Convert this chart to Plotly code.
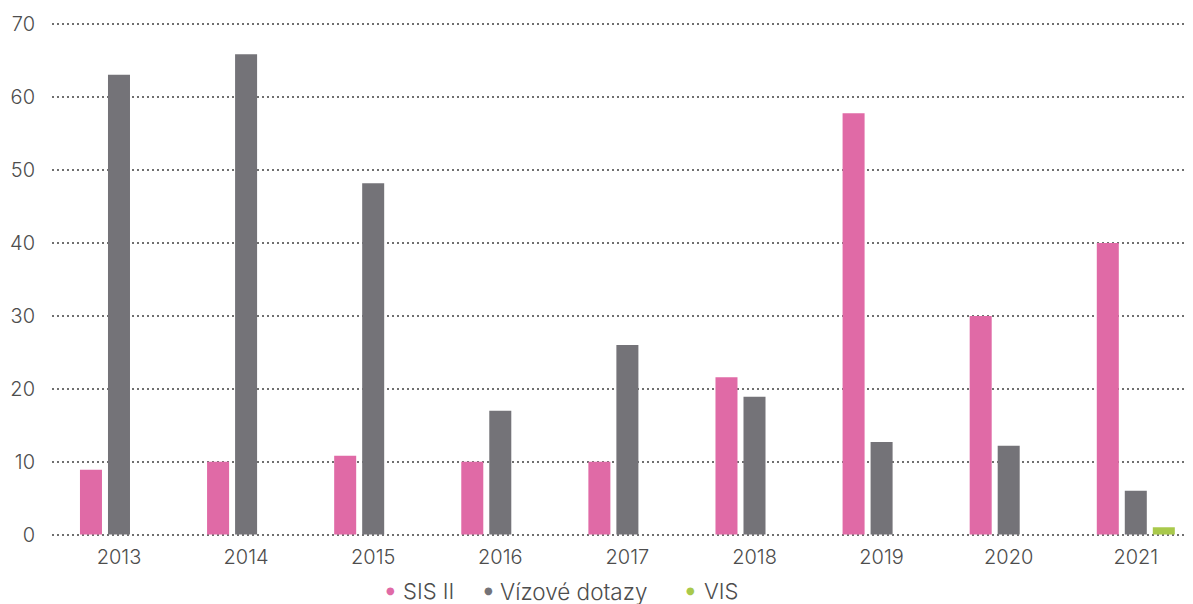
import plotly.graph_objects as go

years = ["2013", "2014", "2015", "2016", "2017", "2018", "2019", "2020", "2021"]
sis_ii = [8.9, 10, 10.8, 10, 10, 21.6, 57.8, 30, 40]
vizove = [63.1, 65.9, 48.2, 17, 26, 18.9, 12.7, 12.2, 6]
vis = [None, None, None, None, None, None, None, None, 1]

series_names = ["SIS II", "Vízové dotazy", "VIS"]
colors = ["#E06AA6", "#747378", "#A9C94B"]
y_ticks = [0, 10, 20, 30, 40, 50, 60, 70]

FONT = "Inter"
TXT = "#4d4d4d"
W, H = 1193, 604
ML, MR, MT, MB = 44, 0, 14.5, 75.5
OFF = 8  # page body margin

fig = go.Figure()
for name, vals, col in zip(series_names, [sis_ii, vizove, vis], colors):
    fig.add_trace(go.Bar(x=years, y=vals, name=name, marker_color=col,
                         marker_line_width=0, showlegend=False))

# custom legend (small dots + labels) below the chart; positions in screen pixels
def px_to_paper_x(px):
    return (px - OFF - ML) / (W - ML - MR)

def px_to_paper_y(py):
    return (H - MB - (py - OFF)) / (H - MT - MB)

legend_dot_px = [390, 488, 690]
legend_txt_px = [401, 498, 702]
legend_sizes = [22, 22.5, 22]
for name, col, dx, tx, fs in zip(series_names, colors, legend_dot_px, legend_txt_px, legend_sizes):
    fig.add_annotation(text="●", x=px_to_paper_x(dx), y=px_to_paper_y(591), xref="paper", yref="paper",
                       xanchor="center", yanchor="middle", showarrow=False,
                       font=dict(family="DejaVu Sans", size=10, color=col))
    fig.add_annotation(text=name, x=px_to_paper_x(tx), y=px_to_paper_y(592), xref="paper", yref="paper",
                       xanchor="left", yanchor="middle", showarrow=False,
                       font=dict(family=FONT, size=fs, color=TXT, weight=300))

fig.update_layout(
    width=W, height=H,
    margin=dict(l=ML, r=MR, t=MT, b=MB, autoexpand=False),
    plot_bgcolor="white", paper_bgcolor="white",
    barmode="group", bargap=0.339, bargroupgap=0.214,
    font=dict(family=FONT, color=TXT, size=18),
    showlegend=False,
)
fig.update_xaxes(type="category", range=[-0.527, 8.513], showgrid=False, showline=False,
                 ticks="", ticklabelstandoff=7, automargin=False,
                 tickfont=dict(family=FONT, size=20, color=TXT, weight=300))
fig.update_yaxes(range=[-0.2, 70.2], tickvals=y_ticks, showgrid=True, gridcolor="#6f6f6f",
                 griddash="2px,3px", gridwidth=2, zeroline=False, showline=False,
                 ticks="", ticklabelstandoff=16, automargin=False,
                 tickfont=dict(family=FONT, size=20, color=TXT, weight=300))

fig.write_html("out.html")
